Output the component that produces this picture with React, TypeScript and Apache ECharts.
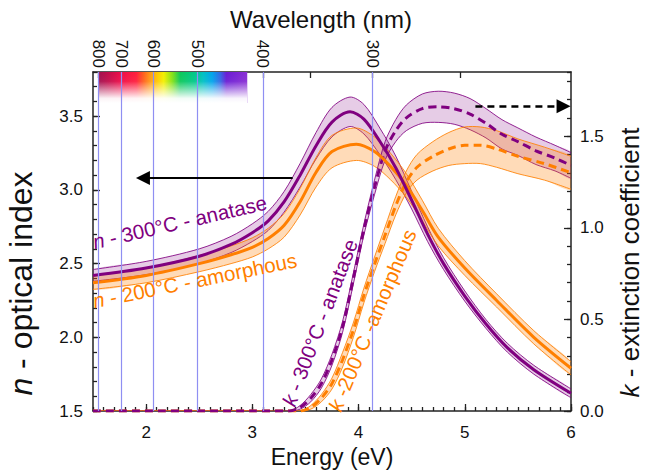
import React, { useEffect, useRef } from 'react';
import * as echarts from 'echarts';

const HC = 1239.84; // eV·nm
const FONT = "'Liberation Sans', Arial, sans-serif";

// n – 300°C anatase (solid purple)
const nAnataseE = [1.5, 2.0, 2.5, 2.8, 3.0, 3.15, 3.3, 3.45, 3.6, 3.75, 3.92, 4.05, 4.2, 4.35, 4.5, 4.65, 4.8, 5.0, 5.2, 5.4, 5.65, 6.0];
const nAnatase = [2.42, 2.47, 2.55, 2.63, 2.71, 2.79, 2.92, 3.10, 3.30, 3.46, 3.53, 3.48, 3.33, 3.15, 2.93, 2.70, 2.50, 2.28, 2.09, 1.93, 1.78, 1.62];
const nAnataseErr = [0.04, 0.045, 0.05, 0.055, 0.06, 0.065, 0.07, 0.08, 0.09, 0.1, 0.1, 0.1, 0.09, 0.08, 0.06, 0.05, 0.04, 0.035, 0.03, 0.03, 0.03, 0.03];

// n – 200°C amorphous (solid orange)
const nAmorphE = [1.5, 2.0, 2.5, 2.8, 3.0, 3.15, 3.3, 3.45, 3.6, 3.75, 3.98, 4.15, 4.3, 4.45, 4.6, 4.75, 5.0, 5.3, 5.65, 6.0];
const nAmorph = [2.37, 2.42, 2.50, 2.56, 2.61, 2.67, 2.76, 2.92, 3.12, 3.26, 3.31, 3.26, 3.16, 3.03, 2.86, 2.68, 2.47, 2.25, 2.00, 1.79];
const nAmorphErr = [0.045, 0.05, 0.055, 0.06, 0.065, 0.07, 0.08, 0.09, 0.1, 0.11, 0.11, 0.1, 0.09, 0.08, 0.07, 0.06, 0.05, 0.045, 0.045, 0.045];

// k – 300°C anatase (dashed purple)
const kAnataseE = [1.5, 3.0, 3.35, 3.45, 3.55, 3.65, 3.75, 3.85, 3.95, 4.05, 4.15, 4.25, 4.35, 4.45, 4.6, 4.75, 4.9, 5.05, 5.2, 5.35, 5.5, 5.67, 5.85, 6.0];
const kAnatase = [0, 0, 0, 0.02, 0.07, 0.15, 0.28, 0.46, 0.72, 0.99, 1.22, 1.42, 1.53, 1.60, 1.65, 1.66, 1.65, 1.62, 1.57, 1.51, 1.47, 1.42, 1.38, 1.34];
const kAnataseErr = [0, 0, 0, 0.01, 0.02, 0.025, 0.03, 0.03, 0.03, 0.03, 0.04, 0.05, 0.06, 0.07, 0.08, 0.085, 0.085, 0.085, 0.08, 0.08, 0.075, 0.075, 0.07, 0.07];

// k – 200°C amorphous (dashed orange)
const kAmorphE = [1.5, 3.0, 3.45, 3.55, 3.65, 3.75, 3.85, 3.95, 4.05, 4.15, 4.25, 4.35, 4.45, 4.55, 4.7, 4.85, 5.0, 5.15, 5.3, 5.5, 5.75, 6.0];
const kAmorph = [0, 0, 0, 0.02, 0.07, 0.15, 0.28, 0.44, 0.63, 0.80, 0.96, 1.12, 1.25, 1.33, 1.39, 1.43, 1.45, 1.45, 1.43, 1.39, 1.35, 1.30];
const kAmorphErr = [0, 0, 0, 0.01, 0.02, 0.03, 0.04, 0.04, 0.04, 0.04, 0.045, 0.05, 0.06, 0.07, 0.08, 0.09, 0.1, 0.1, 0.1, 0.095, 0.09, 0.09];

// axes
const energyLabels = [2, 3, 4, 5, 6];
const wavelengthLabels = [800, 700, 600, 500, 400, 300];
const wavelengthTicks = [800, 750, 700, 650, 600, 550, 500, 450, 400, 350, 300, 250];
const wavelengthLines = [800, 700, 600, 500, 400, 300];

// visible spectrum strip (nm range, n range)
const spectrumNm = [800, 420];
const spectrumN = [3.59, 3.8];

// arrows [E, value]
const arrowNFrom = [3.38, 3.08];
const arrowNTo = [1.97, 3.08];
const arrowKFrom = [5.1, 1.663];
const arrowKTo = [5.93, 1.663];

const PURPLE = '#800080';
const ORANGE = '#ff7f00';
const PURPLE_FILL = 'rgba(128,0,128,0.2)';
const ORANGE_FILL = 'rgba(255,127,0,0.28)';

function band(id: string, E: number[], c: number[], err: number[], color: string, fill: string, yAxisIndex: number) {
  const lo = E.map((e, i) => Math.max(0, c[i] - err[i]));
  const hi = E.map((e, i) => c[i] + err[i]);
  return {
    type: 'custom', name: id, xAxisIndex: 0, yAxisIndex, silent: true, z: 3, clip: true,
    data: E.map((e, i) => [e, lo[i], hi[i]]),
    encode: { x: 0, y: [1, 2] },
    renderItem: (params: any, api: any) => {
      if (params.dataIndex !== 0) return null;
      const up = E.map((e, i) => api.coord([e, hi[i]]));
      const dn = E.map((e, i) => api.coord([e, lo[i]]));
      return {
        type: 'group',
        children: [
          { type: 'polygon', shape: { points: up.concat(dn.slice().reverse()), smooth: 0.3 }, style: { fill, stroke: null } },
          { type: 'polyline', shape: { points: up, smooth: 0.3 }, style: { stroke: color, lineWidth: 1, fill: null, opacity: 0.85 } },
          { type: 'polyline', shape: { points: dn, smooth: 0.3 }, style: { stroke: color, lineWidth: 1, fill: null, opacity: 0.85 } },
        ],
      };
    },
  };
}

function curve(id: string, E: number[], c: number[], color: string, yAxisIndex: number, dashed: boolean) {
  return {
    type: 'line', name: id, xAxisIndex: 0, yAxisIndex, symbol: 'none', smooth: 0.3, silent: true, z: 4,
    data: E.map((e, i) => [e, c[i]]),
    lineStyle: { color, width: 3, type: dashed ? [8, 5] : 'solid' },
  };
}

const axisLineStyle = { color: '#222', width: 1.5 };
const tickStyle = { color: '#222', width: 1.3 };
const labelStyle = { fontSize: 17, color: '#111', fontFamily: FONT };
const nameStyle = (size: number, extra: any = {}) => ({
  fontSize: size, color: '#111', fontFamily: FONT,
  rich: {
    i: { fontSize: size, fontStyle: 'italic', color: '#111', fontFamily: FONT },
    t: { fontSize: size, color: '#111', fontFamily: FONT },
  },
  ...extra,
});

function buildOption() {
  const spectrumGradient = new echarts.graphic.LinearGradient(0, 0, 1, 0, [
    { offset: 0, color: '#a0104e' },
    { offset: 0.08, color: '#c80c4a' },
    { offset: 0.15, color: '#ee0c48' },
    { offset: 0.255, color: '#ff1e3c' },
    { offset: 0.3, color: '#ff5a1e' },
    { offset: 0.35, color: '#ff9a14' },
    { offset: 0.4, color: '#ffcc00' },
    { offset: 0.44, color: '#f2f000' },
    { offset: 0.5, color: '#7ee01a' },
    { offset: 0.55, color: '#0cc85a' },
    { offset: 0.65, color: '#00c88c' },
    { offset: 0.705, color: '#00c0c4' },
    { offset: 0.765, color: '#00a4ec' },
    { offset: 0.82, color: '#3466e4' },
    { offset: 0.86, color: '#6a1cd4' },
    { offset: 1, color: '#8a2ed4' },
  ]);
  const fadeGradient = new echarts.graphic.LinearGradient(0, 0, 0, 1, [
    { offset: 0, color: 'rgba(255,255,255,0)' },
    { offset: 0.3, color: 'rgba(255,255,255,0.05)' },
    { offset: 0.85, color: 'rgba(255,255,255,0.95)' },
    { offset: 1, color: 'rgba(255,255,255,1)' },
  ]);

  const series: any[] = [
    {
      type: 'line', name: 'spectrum', xAxisIndex: 0, yAxisIndex: 0, data: [], silent: true, z: 1,
      markArea: {
        silent: true,
        data: [
          [
            { xAxis: HC / spectrumNm[0], yAxis: spectrumN[0], itemStyle: { color: spectrumGradient, opacity: 1 } },
            { xAxis: HC / spectrumNm[1], yAxis: spectrumN[1] },
          ],
          [
            { xAxis: HC / spectrumNm[0], yAxis: spectrumN[0], itemStyle: { color: fadeGradient, opacity: 1 } },
            { xAxis: HC / spectrumNm[1], yAxis: spectrumN[1] },
          ],
        ],
      },
    },
    {
      type: 'line', name: 'wl-lines', xAxisIndex: 0, yAxisIndex: 0, data: [], silent: true, z: 2,
      markLine: {
        silent: true, symbol: 'none', label: { show: false },
        lineStyle: { color: '#8f8ff2', width: 1.2, type: 'solid', opacity: 1 },
        emphasis: { disabled: true },
        data: wavelengthLines.map((w) => ({ xAxis: HC / w })),
      },
    },
    band('nAn', nAnataseE, nAnatase, nAnataseErr, PURPLE, PURPLE_FILL, 0),
    band('nAm', nAmorphE, nAmorph, nAmorphErr, ORANGE, ORANGE_FILL, 0),
    band('kAn', kAnataseE, kAnatase, kAnataseErr, PURPLE, PURPLE_FILL, 1),
    band('kAm', kAmorphE, kAmorph, kAmorphErr, ORANGE, ORANGE_FILL, 1),
    curve('k amorphous', kAmorphE, kAmorph, ORANGE, 1, true),
    curve('k anatase', kAnataseE, kAnatase, PURPLE, 1, true),
    curve('n amorphous', nAmorphE, nAmorph, ORANGE, 0, false),
    curve('n anatase', nAnataseE, nAnatase, PURPLE, 0, false),
    {
      type: 'line', name: 'arrow-n', xAxisIndex: 0, yAxisIndex: 0, data: [], silent: true, z: 5,
      markLine: {
        silent: true, symbol: ['none', 'triangle'], symbolSize: 14, label: { show: false },
        lineStyle: { color: '#000', width: 2, type: 'solid' },
        data: [[{ coord: arrowNFrom }, { coord: arrowNTo }]],
      },
    },
    {
      type: 'line', name: 'arrow-k', xAxisIndex: 0, yAxisIndex: 1, data: [], silent: true, z: 5,
      markLine: {
        silent: true, symbol: ['none', 'triangle'], symbolSize: 14, label: { show: false },
        lineStyle: { color: '#000', width: 2.5, type: [7, 5] },
        data: [[{ coord: arrowKFrom }, { coord: arrowKTo }]],
      },
    },
  ];

  const textLabel = (text: string, x: number, y: number, deg: number, color: string, size = 20.5) => ({
    type: 'text', x, y, rotation: (deg * Math.PI) / 180, z: 10, silent: true,
    style: {
      text, fill: color, fontSize: size, fontFamily: FONT, verticalAlign: 'middle', align: 'left',
      rich: {
        i: { fontStyle: 'italic', fontSize: size, fontFamily: FONT, fill: color },
        t: { fontSize: size, fontFamily: FONT, fill: color },
      },
    },
  });

  return {
    animation: false,
    backgroundColor: '#fff',
    grid: { left: 93, right: 74, top: 72, bottom: 65, containLabel: false, outerBoundsMode: 'none' },
    xAxis: [
      {
        type: 'value', min: 1.5, max: 6, interval: 0.5, position: 'bottom',
        axisLine: { show: true, onZero: false, lineStyle: axisLineStyle },
        axisTick: { show: true, inside: true, length: 7, customValues: energyLabels, lineStyle: tickStyle },
        axisLabel: { ...labelStyle, margin: 13, customValues: energyLabels, formatter: (v: number) => String(v) },
        splitLine: { show: false },
        name: 'Energy (eV)', nameLocation: 'middle', nameGap: 34, nameTextStyle: nameStyle(23),
      },
      {
        type: 'value', min: 1.5, max: 6, interval: 0.1, position: 'bottom',
        axisLine: { show: false, onZero: false },
        axisTick: { show: true, inside: true, length: 4, lineStyle: tickStyle },
        axisLabel: { show: false }, splitLine: { show: false },
      },
      {
        type: 'value', min: 1.5, max: 6, position: 'top',
        axisLine: { show: true, onZero: false, lineStyle: axisLineStyle },
        axisTick: { show: true, inside: true, length: 6, customValues: wavelengthTicks.map((w) => HC / w), lineStyle: tickStyle },
        axisLabel: {
          ...labelStyle, margin: 4, rotate: 90,
          customValues: wavelengthLabels.map((w) => HC / w),
          formatter: (v: number) => String(Math.round(HC / v)),
        },
        splitLine: { show: false },
        name: 'Wavelength (nm)', nameLocation: 'middle', nameGap: 40,
        nameTextStyle: nameStyle(24, { padding: [0, 22, 0, 0] }),
      },
    ],
    yAxis: [
      {
        type: 'value', min: 1.5, max: 3.8, interval: 0.5, position: 'left',
        axisLine: { show: true, onZero: false, lineStyle: axisLineStyle },
        axisTick: { show: true, inside: true, length: 7, lineStyle: tickStyle },
        axisLabel: { ...labelStyle, margin: 10, showMaxLabel: false, formatter: (v: number) => v.toFixed(1) },
        splitLine: { show: false },
        name: '{i|n}{t| - optical index}', nameLocation: 'middle', nameGap: 56, nameRotate: 90,
        nameTextStyle: nameStyle(32, { padding: [0, 84, 0, 0] }),
      },
      {
        type: 'value', min: 0, max: 1.85, interval: 0.5, position: 'right',
        axisLine: { show: true, onZero: false, lineStyle: axisLineStyle },
        axisTick: { show: true, inside: true, length: 7, lineStyle: tickStyle },
        axisLabel: { ...labelStyle, margin: 9, showMaxLabel: false, formatter: (v: number) => v.toFixed(1) },
        splitLine: { show: false },
        name: '{i|k}{t| - extinction coefficient}', nameLocation: 'middle', nameGap: 46, nameRotate: 90,
        nameTextStyle: nameStyle(26, { padding: [0, 42, 0, 0] }),
      },
      {
        type: 'value', min: 1.5, max: 3.8, interval: 0.1, position: 'left',
        axisLine: { show: false, onZero: false },
        axisTick: { show: true, inside: true, length: 4, lineStyle: tickStyle },
        axisLabel: { show: false }, splitLine: { show: false },
      },
      {
        type: 'value', min: 0, max: 1.85, interval: 0.1, position: 'right',
        axisLine: { show: false, onZero: false },
        axisTick: { show: true, inside: true, length: 4, lineStyle: tickStyle },
        axisLabel: { show: false }, splitLine: { show: false },
      },
    ],
    series,
    graphic: [
      textLabel('{i|n}{t| - 300°C - anatase}', 93, 242, 13, PURPLE),
      textLabel('{i|n}{t| - 200°C - amorphous}', 93, 301, 11.5, ORANGE),
      textLabel('{i|k}{t| - 300°C - anatase}', 288, 405, 69, PURPLE),
      textLabel('{i|k}{t| -200°C -amorphous}', 334, 410, 67, ORANGE),
    ],
  };
}

export default function App() {
  const ref = useRef<HTMLDivElement>(null);
  useEffect(() => {
    if (!ref.current) return;
    const chart = echarts.init(ref.current, null, { renderer: 'svg' });
    chart.setOption(buildOption() as any);
    return () => chart.dispose();
  }, []);
  return <div ref={ref} style={{ position: 'fixed', left: 0, top: 0, width: 645, height: 476, background: '#fff' }} />;
}
